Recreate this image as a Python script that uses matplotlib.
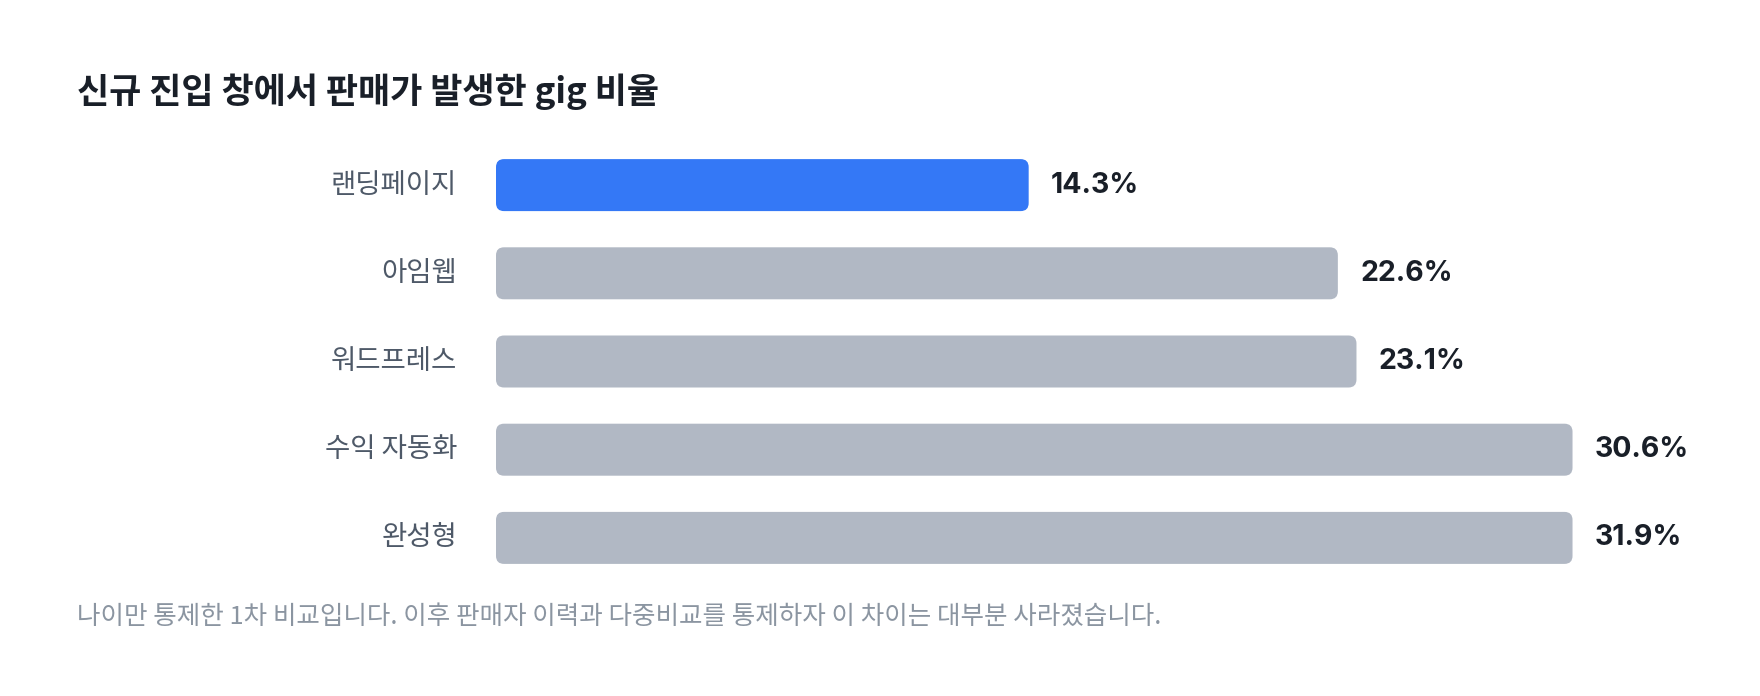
import matplotlib
matplotlib.use("Agg")
import matplotlib.pyplot as plt
from matplotlib.patches import FancyBboxPatch
import numpy as np

categories = ["랜딩페이지", "아임웹", "워드프레스", "수익 자동화", "완성형"]
values = [14.3, 22.6, 23.1, 30.6, 31.9]
highlight = "랜딩페이지"
title = "신규 진입 창에서 판매가 발생한 gig 비율"
footnote = "나이만 통제한 1차 비교입니다. 이후 판매자 이력과 다중비교를 통제하자 이 차이는 대부분 사라졌습니다."

KR = ["Noto Sans CJK KR", "DejaVu Sans"]
NUM = ["Inter", "Noto Sans CJK KR", "DejaVu Sans"]
plt.rcParams["font.family"] = KR

W, H, DPI = 1760, 696, 100
fig = plt.figure(figsize=(W / DPI, H / DPI), dpi=DPI)
fig.patch.set_facecolor("white")

# layout (pixels)
ax_left, ax_right = 496, 1760
ax_top, ax_bottom = 141, 582
px_per_unit = 37.25
bar_cap = 28.9  # bars are drawn no longer than this (as in the reference)

ax = fig.add_axes([ax_left / W, 1 - ax_bottom / H,
                   (ax_right - ax_left) / W, (ax_bottom - ax_top) / H])
ax.set_xlim(0, (ax_right - ax_left) / px_per_unit)
n = len(categories)
ax.set_ylim(n - 0.5, -0.5)
ax.axis("off")

pitch_px = (ax_bottom - ax_top) / n
bar_h = 52 / pitch_px
radius_px = 8
aspect = px_per_unit / pitch_px
r_x = radius_px / px_per_unit

blue = "#3478F6"
grey = "#B1B8C4"
shown = np.minimum(values, bar_cap)
for i, (cat, v, s) in enumerate(zip(categories, values, shown)):
    col = blue if cat == highlight else grey
    p = FancyBboxPatch((0, i - bar_h / 2), s, bar_h,
                       boxstyle=f"round,pad=0,rounding_size={r_x}",
                       mutation_aspect=aspect, fc=col, ec="none")
    ax.add_patch(p)
    ax.annotate(f"{v:.1f}%", xy=(s, i), xytext=(16, 0), textcoords="offset points",
                ha="left", va="center", fontsize=20.5, fontweight="bold",
                color="#191F28", family=NUM)
    ax.text(-39 / px_per_unit, i, cat, ha="right", va="center", fontsize=19.8,
            color="#4E5968", family=KR)

fig.text(77 / W, 1 - 92 / H, title, ha="left", va="center", fontsize=25.2,
         fontweight="bold", color="#191F28", family=KR)
fig.text(77 / W, 1 - 617 / H, footnote, ha="left", va="center", fontsize=18.4,
         color="#8B95A1", family=KR)

fig.savefig("out.png", dpi=DPI, facecolor="white")
